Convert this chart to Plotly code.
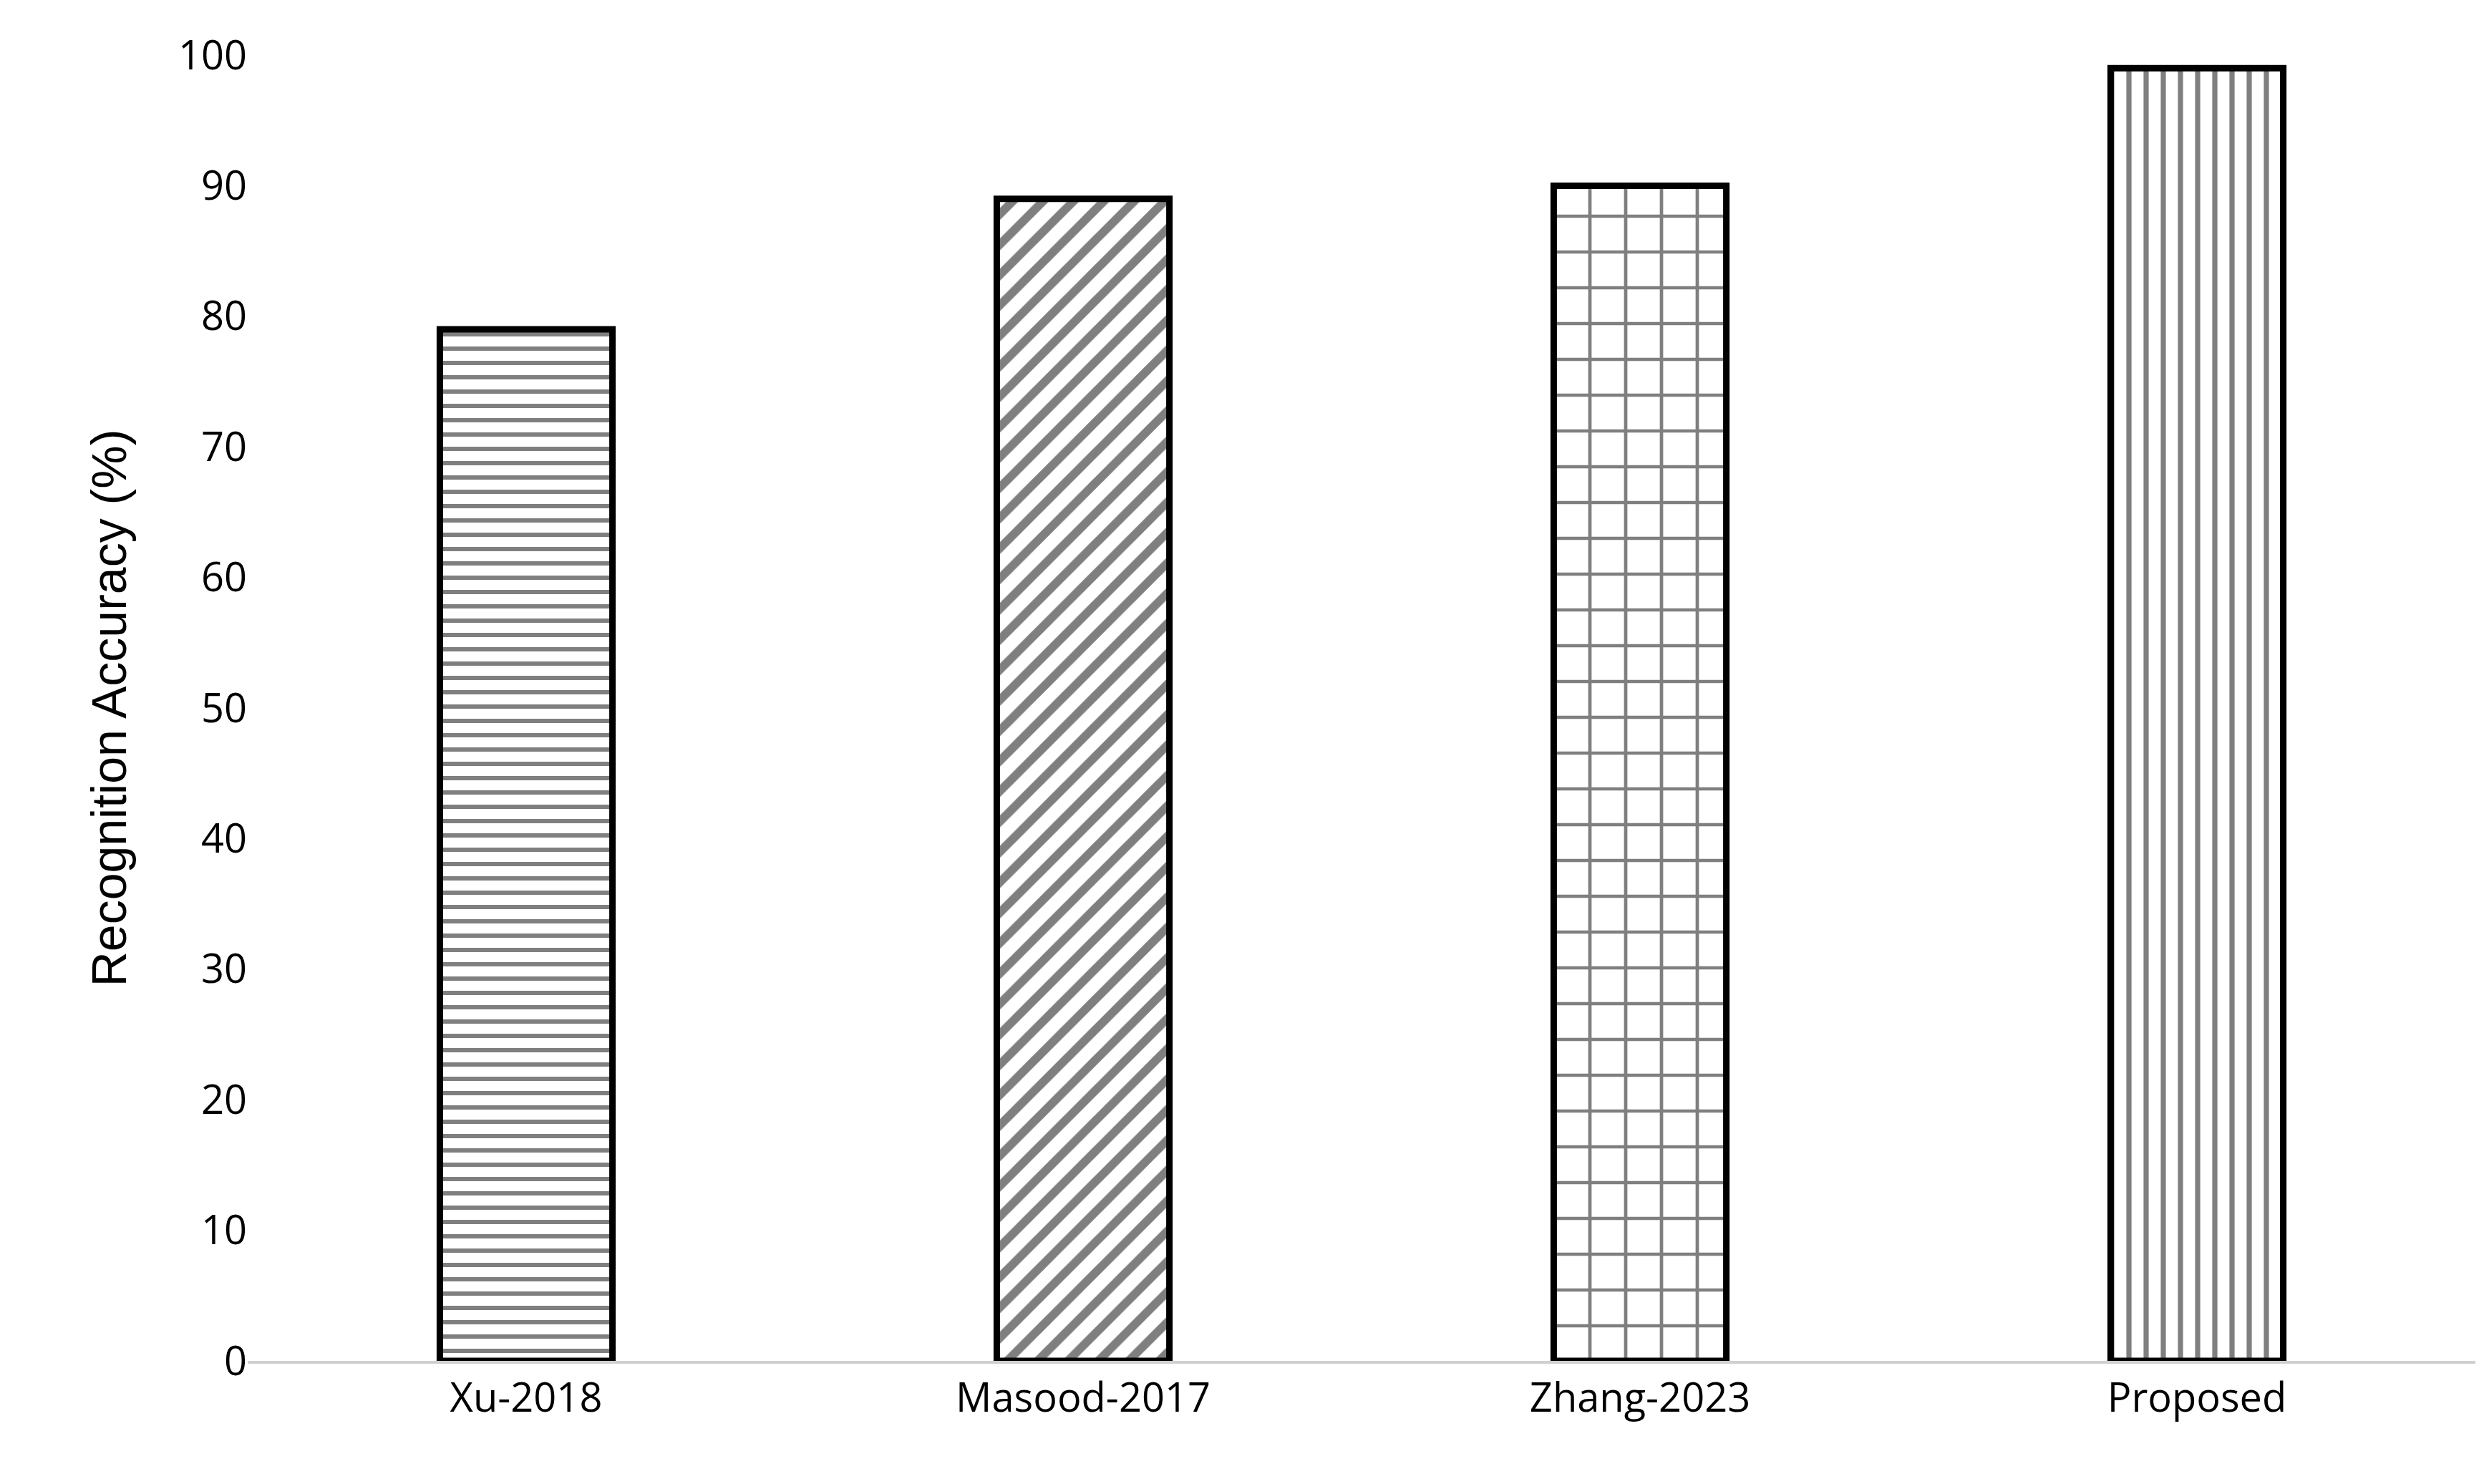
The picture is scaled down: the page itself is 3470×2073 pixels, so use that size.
import plotly.graph_objects as go

methods = ["Xu-2018", "Masood-2017", "Zhang-2023", "Proposed"]
accuracy = [79, 89, 90, 99]
shapes = ["-", "/", "+", "|"]
sizes = [20, 30, 50, 24]
solid = [0.3, 0.4, 0.18, 0.3]
yticks = list(range(0, 101, 10))

fig = go.Figure(go.Bar(
    x=methods, y=accuracy, width=0.31,
    marker=dict(color="white",
                line=dict(color="black", width=9),
                pattern=dict(shape=shapes, size=sizes, solidity=solid,
                             fgcolor="black", bgcolor="white", fillmode="overlay")),
))
fig.update_layout(
    width=3470, height=2073, plot_bgcolor="white", paper_bgcolor="white",
    margin=dict(l=338, r=20, t=69, b=180), showlegend=False,
)
fig.update_yaxes(range=[0, 100], tickvals=yticks, showgrid=False, zeroline=False,
                 showline=False, ticks="", tickfont=dict(family="Open Sans", size=56, color="black"),
                 title=dict(text="Recognition Accuracy (%)",
                            font=dict(family="Liberation Sans", size=68, color="black"),
                            standoff=50))
fig.update_xaxes(showline=True, linecolor="#d0d0d0", linewidth=4, ticks="",
                 tickfont=dict(family="Open Sans", size=56, color="black"))
fig.write_html("out.html")
